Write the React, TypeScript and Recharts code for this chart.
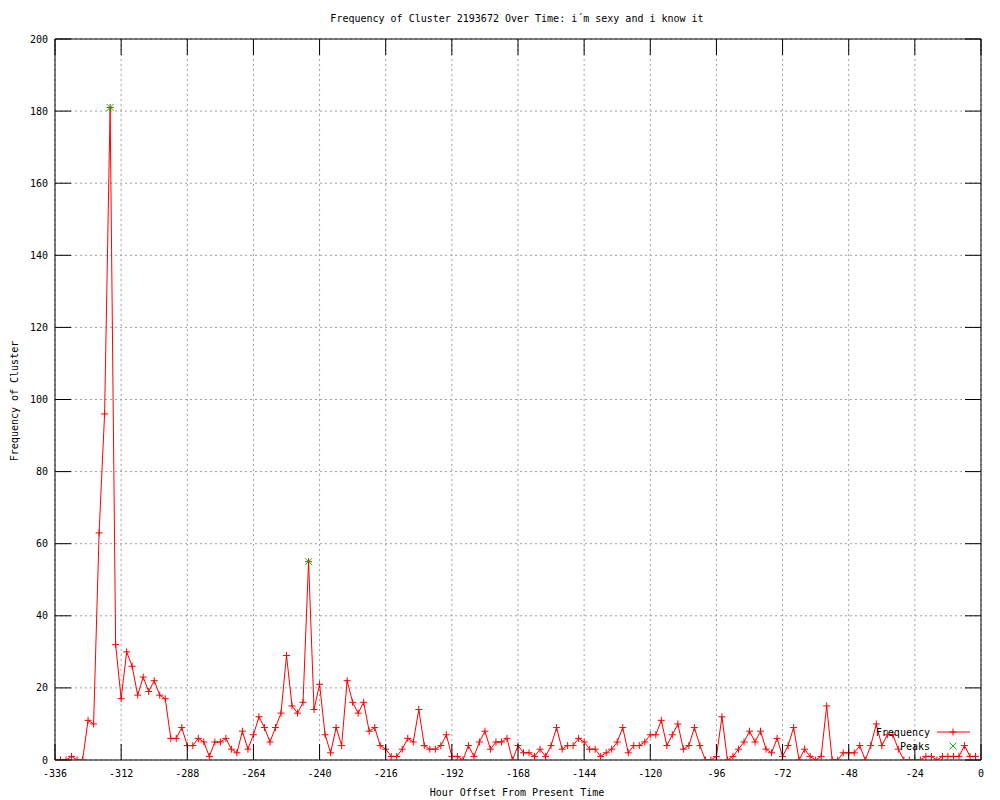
import React from 'react';
import { ComposedChart, Line, XAxis, YAxis, CartesianGrid, ReferenceLine, Legend } from 'recharts';

const hours = [
  -336, -334, -332, -330, -328, -326, -324, -322, -320, -318, -316, -314, -312, -310, -308, -306,
  -304, -302, -300, -298, -296, -294, -292, -290, -288, -286, -284, -282, -280, -278, -276, -274,
  -272, -270, -268, -266, -264, -262, -260, -258, -256, -254, -252, -250, -248, -246, -244, -242,
  -240, -238, -236, -234, -232, -230, -228, -226, -224, -222, -220, -218, -216, -214, -212, -210,
  -208, -206, -204, -202, -200, -198, -196, -194, -192, -190, -188, -186, -184, -182, -180, -178,
  -176, -174, -172, -170, -168, -166, -164, -162, -160, -158, -156, -154, -152, -150, -148, -146,
  -144, -142, -140, -138, -136, -134, -132, -130, -128, -126, -124, -122, -120, -118, -116, -114,
  -112, -110, -108, -106, -104, -102, -100, -98, -96, -94, -92, -90, -88, -86, -84, -82,
  -80, -78, -76, -74, -72, -70, -68, -66, -64, -62, -60, -58, -56, -54, -52, -50,
  -48, -46, -44, -42, -40, -38, -36, -34, -32, -30, -28, -26, -24, -22, -20, -18,
  -16, -14, -12, -10, -8, -6, -4, -2,
];

const frequency = [
  0, 0, 0, 1, 0, 0, 11, 10, 63, 96, 181, 32, 17, 30, 26, 18,
  23, 19, 22, 18, 17, 6, 6, 9, 4, 4, 6, 5, 1, 5, 5, 6,
  3, 2, 8, 3, 7, 12, 9, 5, 9, 13, 29, 15, 13, 16, 55, 14,
  21, 7, 2, 9, 4, 22, 16, 13, 16, 8, 9, 4, 3, 1, 1, 3,
  6, 5, 14, 4, 3, 3, 4, 7, 1, 1, 0, 4, 1, 5, 8, 3,
  5, 5, 6, 0, 4, 2, 2, 1, 3, 1, 4, 9, 3, 4, 4, 6,
  5, 3, 3, 1, 2, 3, 5, 9, 2, 4, 4, 5, 7, 7, 11, 4,
  7, 10, 3, 4, 9, 4, 0, 0, 1, 12, 0, 1, 3, 5, 8, 5,
  8, 3, 2, 6, 1, 4, 9, 0, 3, 1, 0, 1, 15, 0, 0, 2,
  2, 2, 4, 0, 4, 10, 4, 7, 7, 3, 0, 0, 0, 0, 1, 1,
  0, 1, 1, 1, 1, 4, 1, 1,
];

const peakHours = [-316, -244];
const peakValues = [181, 55];

const xTicks = [-336, -312, -288, -264, -240, -216, -192, -168, -144, -120, -96, -72, -48, -24, 0];
const yTicks = [0, 20, 40, 60, 80, 100, 120, 140, 160, 180, 200];

const data = hours.map((h, i) => {
  const pi = peakHours.indexOf(h);
  return { hour: h, freq: frequency[i], peak: pi >= 0 ? peakValues[pi] : null };
});

const PLOT_LEFT = 55;
const PLOT_RIGHT = 981;
const PLOT_TOP = 39;
const PLOT_BOTTOM = 760;
const TICK = 16;
const RED = '#ff0000';
const GREEN = '#00c000';
const FONT = '"DejaVu Sans Mono", monospace';

const PlusMark = ({ cx, cy }: { cx: number; cy: number }) => (
  <g stroke={RED} strokeWidth={1}>
    <line x1={cx - 3.5} x2={cx + 3.5} y1={cy} y2={cy} />
    <line x1={cx} x2={cx} y1={cy - 3.5} y2={cy + 3.5} />
  </g>
);

const XMark = ({ cx, cy }: { cx: number; cy: number }) => (
  <g stroke={GREEN} strokeWidth={1}>
    <line x1={cx - 3.5} x2={cx + 3.5} y1={cy - 3.5} y2={cy + 3.5} />
    <line x1={cx - 3.5} x2={cx + 3.5} y1={cy + 3.5} y2={cy - 3.5} />
  </g>
);

const FreqDot = (props: any) => {
  const { cx, cy, index } = props;
  if (cx == null || cy == null) return <g key={`f${index}`} />;
  return <PlusMark key={`f${index}`} cx={cx} cy={cy} />;
};

const PeakDot = (props: any) => {
  const { cx, cy, index, payload } = props;
  if (cx == null || cy == null || payload == null || payload.peak == null) return <g key={`p${index}`} />;
  return <XMark key={`p${index}`} cx={cx} cy={cy} />;
};

const XTick = (props: any) => {
  const { x, payload } = props;
  return (
    <g>
      <line x1={x} x2={x} y1={PLOT_BOTTOM} y2={PLOT_BOTTOM - TICK} stroke="#000" />
      <line x1={x} x2={x} y1={PLOT_TOP} y2={PLOT_TOP + TICK} stroke="#000" />
      <text x={x} y={PLOT_BOTTOM + 17} textAnchor="middle" fontFamily={FONT} fontSize={10} fill="#000">
        {payload.value}
      </text>
    </g>
  );
};

const YTick = (props: any) => {
  const { y, payload } = props;
  return (
    <g>
      <line x1={PLOT_LEFT} x2={PLOT_LEFT + TICK} y1={y} y2={y} stroke="#000" />
      <line x1={PLOT_RIGHT} x2={PLOT_RIGHT - TICK} y1={y} y2={y} stroke="#000" />
      <text x={PLOT_LEFT - 7} y={y + 3.5} textAnchor="end" fontFamily={FONT} fontSize={10} fill="#000">
        {payload.value}
      </text>
    </g>
  );
};

const LegendContent = () => (
  <svg width={130} height={30} style={{ display: 'block', overflow: 'visible' }}>
    <text x={80} y={12} textAnchor="end" fontFamily={FONT} fontSize={10} fill="#000">Frequency</text>
    <line x1={87} x2={120} y1={8} y2={8} stroke={RED} strokeWidth={1} />
    <PlusMark cx={103} cy={8} />
    <text x={80} y={25.5} textAnchor="end" fontFamily={FONT} fontSize={10} fill="#000">Peaks</text>
    <XMark cx={103} cy={22} />
  </svg>
);

export default function App() {
  return (
    <div style={{ position: 'absolute', left: 0, top: 0, width: 1000, height: 800, background: '#fff' }}>
      <ComposedChart
        width={1000}
        height={800}
        data={data}
        margin={{ top: PLOT_TOP, right: 1000 - PLOT_RIGHT, bottom: 0, left: 0 }}
      >
        <CartesianGrid stroke="#a0a0a0" strokeDasharray="2 3" />
        <XAxis
          dataKey="hour"
          type="number"
          domain={[-336, 0]}
          ticks={xTicks}
          interval={0}
          height={40}
          tickSize={0}
          tickMargin={8}
          tick={<XTick />}
          axisLine={{ stroke: '#000' }}
          allowDataOverflow
        />
        <YAxis
          type="number"
          domain={[0, 200]}
          ticks={yTicks}
          interval={0}
          width={PLOT_LEFT}
          tickSize={0}
          tickMargin={7}
          tick={<YTick />}
          axisLine={{ stroke: '#000' }}
          allowDataOverflow
        />
        <ReferenceLine y={200} stroke="#000" strokeWidth={1} />
        <ReferenceLine x={0} stroke="#000" strokeWidth={1} />
        <Line
          dataKey="freq"
          type="linear"
          stroke={RED}
          strokeWidth={1}
          dot={FreqDot}
          activeDot={false}
          isAnimationActive={false}
        />
        <Line
          dataKey="peak"
          type="linear"
          stroke="none"
          dot={PeakDot}
          activeDot={false}
          connectNulls={false}
          isAnimationActive={false}
        />
        <Legend
          layout="vertical"
          align="center"
          verticalAlign="middle"
          content={<LegendContent />}
          wrapperStyle={{ left: 850, top: 724, width: 130, height: 30 }}
        />
      </ComposedChart>
      <svg
        width={1000}
        height={800}
        style={{ position: 'absolute', left: 0, top: 0, pointerEvents: 'none' }}
      >
        <text x={517} y={22} textAnchor="middle" fontFamily={FONT} fontSize={10} fill="#000">
          Frequency of Cluster 2193672 Over Time: i´m sexy and i know it
        </text>
        <text x={517} y={796} textAnchor="middle" fontFamily={FONT} fontSize={10} fill="#000">
          Hour Offset From Present Time
        </text>
        <text
          x={0}
          y={0}
          transform="translate(17.5,401) rotate(-90)"
          textAnchor="middle"
          fontFamily={FONT}
          fontSize={10}
          fill="#000"
        >
          Frequency of Cluster
        </text>
      </svg>
    </div>
  );
}
